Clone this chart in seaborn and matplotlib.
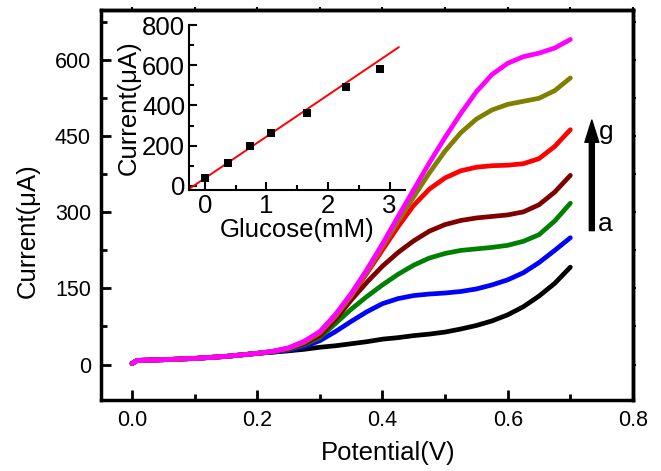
import numpy as np
import pandas as pd
import matplotlib
matplotlib.use("Agg")
import matplotlib.pyplot as plt
import seaborn as sns

# ---------------- data ----------------
potential = [0.0, 0.008, 0.02, 0.05, 0.1, 0.15, 0.2, 0.225, 0.25, 0.275, 0.3, 0.325, 0.35,
             0.375, 0.4, 0.425, 0.45, 0.475, 0.5, 0.525, 0.55, 0.575, 0.6, 0.625,
             0.65, 0.675, 0.7]
cur_a = [2, 8, 8.5, 9.5, 12, 16, 22, 24.5, 27, 30, 34, 37, 41, 45, 50, 53, 57, 60, 64, 70, 77, 86, 98, 114, 135, 160, 192]
cur_b = [2, 8, 8.5, 9.5, 12, 16, 22, 24.5, 28, 35, 47, 65, 85, 104, 120, 130, 136, 139, 141, 144, 149, 157, 167, 181, 201, 225, 250]
cur_c = [2, 8, 8.5, 9.5, 12, 16, 22, 25, 30, 39, 53, 81, 109, 134, 157, 178, 196, 210, 219, 225, 228, 231, 235, 243, 256, 283, 318]
cur_d = [2, 8, 8.5, 9.5, 12, 16, 22, 25.5, 31, 41, 57, 89, 127, 162, 194, 221, 244, 263, 276, 284, 289, 292, 295, 301, 315, 340, 373]
cur_e = [2, 8, 8.5, 9.5, 12, 16, 22, 26, 32, 44, 62, 95, 135, 180, 226, 272, 314, 346, 368, 382, 389, 392, 393, 396, 406, 430, 463]
cur_f = [2, 8, 8.5, 9.5, 12, 16, 22, 26, 32, 44, 63, 96, 136, 183, 233, 283, 331, 378, 421, 457, 484, 502, 513, 519, 525, 540, 565]
cur_g = [2, 8, 8.5, 9.5, 12, 16, 22, 26, 33, 46, 65, 99, 140, 187, 238, 292, 345, 398, 448, 495, 538, 572, 594, 607, 614, 624, 641]
curve_names = ["a", "b", "c", "d", "e", "f", "g"]
curve_colors = ["#000000", "#0000FF", "#008000", "#800000", "#FF0000", "#808000", "#FF00FF"]

glucose = [0.0, 0.37, 0.74, 1.07, 1.66, 2.30, 2.85]
inset_current = [38, 114, 200, 261, 365, 492, 580]
fit_x = [-0.26, 3.15]
fit_y = [-16, 690]

x_ticks = [0.0, 0.2, 0.4, 0.6, 0.8]
x_ticklabels = ["0.0", "0.2", "0.4", "0.6", "0.8"]
y_ticks = [0, 150, 300, 450, 600]
y_ticklabels = ["0", "150", "300", "450", "600"]
inset_xticks = [0, 1, 2, 3]
inset_yticks = [0, 200, 400, 600, 800]

# ---------------- build long table ----------------
all_curves = [cur_a, cur_b, cur_c, cur_d, cur_e, cur_f, cur_g]
frames = []
for name, vals in zip(curve_names, all_curves):
    frames.append(pd.DataFrame({"Potential": potential, "Current": vals, "curve": name}))
df = pd.concat(frames, ignore_index=True)

sns.set_theme(style="ticks")
plt.rcParams["font.family"] = ["Liberation Sans", "DejaVu Sans"]
plt.rcParams["axes.linewidth"] = 2.5
for key in ("text.color", "axes.labelcolor", "xtick.color", "ytick.color", "axes.edgecolor"):
    plt.rcParams[key] = "black"

fig = plt.figure(figsize=(6.61, 4.71), dpi=100)
ax = fig.add_axes([0.1523, 0.1507, 0.8053, 0.8291])

sns.lineplot(data=df, x="Potential", y="Current", hue="curve", hue_order=curve_names,
             palette=dict(zip(curve_names, curve_colors)), sort=False, estimator=None,
             legend=False, lw=3.4, ax=ax, solid_capstyle="round", solid_joinstyle="round")

ax.set_xlim(-0.05, 0.8)
ax.set_ylim(-70, 700)
ax.set_xticks(x_ticks)
ax.set_xticklabels(x_ticklabels)
ax.set_yticks(y_ticks)
ax.set_yticklabels(y_ticklabels)
ax.set_xticks([0.1, 0.3, 0.5, 0.7], minor=True)
ax.set_yticks([75, 225, 375, 525, 675], minor=True)
ax.tick_params(which="major", direction="in", length=7, width=2, labelsize=15.5, pad=7,
               color="black", labelcolor="black")
ax.tick_params(which="minor", direction="in", length=4, width=2, color="black")
for s in ax.spines.values():
    s.set_linewidth(2.5)
    s.set_color("black")

ax.set_xlabel("Potential(V)", fontsize=18.5, color="black")
ax.set_ylabel("Current(\u03bcA)", fontsize=18.5, color="black")
ax.xaxis.set_label_coords(0.54, -0.105)
ax.yaxis.set_label_coords(-0.115, 0.435)

# mirrored outward small ticks on right/top
secy = ax.secondary_yaxis("right")
secy.set_yticks(y_ticks)
secy.set_yticks([75, 225, 375, 525, 675], minor=True)
secy.tick_params(which="both", direction="out", length=2.5, width=1.5, labelright=False, color="black")
secx = ax.secondary_xaxis("top")
secx.set_xticks(x_ticks)
secx.set_xticks([0.1, 0.3, 0.5, 0.7], minor=True)
secx.tick_params(which="both", direction="out", length=2.5, width=1.5, labeltop=False, color="black")
for sec in (secx, secy):
    for s in sec.spines.values():
        s.set_linewidth(2.5)
        s.set_color("black")

# arrow a -> g
ax.annotate("", xy=(0.7343, 482), xytext=(0.7343, 264),
            arrowprops=dict(width=3.6, headwidth=10, headlength=16, facecolor="black",
                            edgecolor="black", shrink=0.0))
ax.text(0.746, 458, "g", fontsize=19, ha="left", va="center", color="black")
ax.text(0.744, 277, "a", fontsize=19, ha="left", va="center", color="black")

# ---------------- inset ----------------
ins = fig.add_axes([0.2864, 0.5966, 0.3263, 0.3503])
ins.set_facecolor("none")
sns.lineplot(x=fit_x, y=fit_y, color="#FF0000", lw=1.4, ax=ins)
sns.scatterplot(x=glucose, y=inset_current, marker="s", color="black", s=30,
                edgecolor="black", linewidth=0, ax=ins, zorder=3)
ins.set_xlim(-0.25, 3.25)
ins.set_ylim(-20, 800)
ins.set_xticks(inset_xticks)
ins.set_yticks(inset_yticks)
ins.set_xticks([0.5, 1.5, 2.5], minor=True)
ins.set_yticks([100, 300, 500, 700], minor=True)
ins.spines["top"].set_visible(False)
ins.spines["right"].set_visible(False)
for s in ("left", "bottom"):
    ins.spines[s].set_linewidth(1.5)
    ins.spines[s].set_color("black")
ins.tick_params(which="major", direction="in", length=6, width=1.5, labelsize=18.5, pad=3,
                color="black", labelcolor="black")
ins.tick_params(which="minor", direction="in", length=3.5, width=1.5, color="black")
ins.set_xlabel("Glucose(mM)", fontsize=18.5, labelpad=0, color="black")
ins.set_ylabel("Current(\u03bcA)", fontsize=18.5, labelpad=1, color="black")

fig.savefig("out.png", dpi=100)
